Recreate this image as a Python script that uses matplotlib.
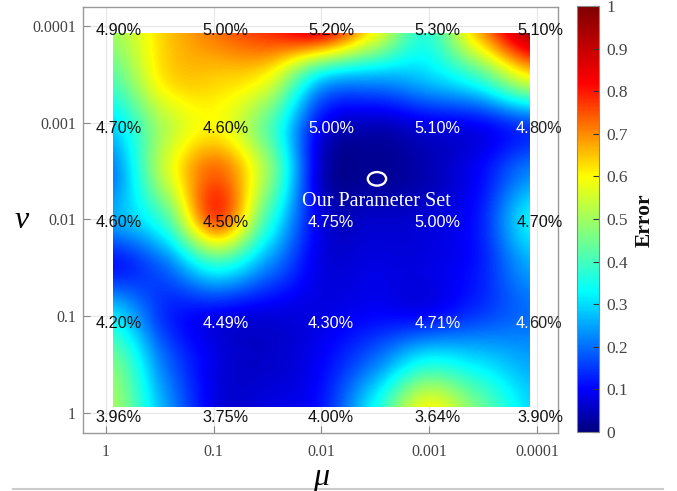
import numpy as np
import matplotlib.pyplot as plt
from matplotlib.colors import LinearSegmentedColormap
from matplotlib.patches import Rectangle, Ellipse
from matplotlib.lines import Line2D

# axis tick labels (mu left->right, nu top->bottom)
mu_labels = ["1", "0.1", "0.01", "0.001", "0.0001"]
nu_labels = ["0.0001", "0.001", "0.01", "0.1", "1"]

# error rates printed on the grid, rows = nu (top->bottom), cols = mu
rate_text = [
    ["4.90%", "5.00%", "5.20%", "5.30%", "5.10%"],
    ["4.70%", "4.60%", "5.00%", "5.10%", "4.80%"],
    ["4.60%", "4.50%", "4.75%", "5.00%", "4.70%"],
    ["4.20%", "4.49%", "4.30%", "4.71%", "4.60%"],
    ["3.96%", "3.75%", "4.00%", "3.64%", "3.90%"],
]

# normalised error surface sampled on a 9x9 grid (top row = nu 0.0001)
error_grid = np.array([
    [0.50, 0.64, 0.72, 0.78, 0.82, 0.60, 0.38, 0.66, 0.92],
    [0.42, 0.62, 0.64, 0.58, 0.30, 0.25, 0.28, 0.38, 0.58],
    [0.30, 0.52, 0.60, 0.42, 0.10, 0.05, 0.08, 0.10, 0.16],
    [0.22, 0.54, 0.73, 0.48, 0.06, 0.02, 0.04, 0.10, 0.22],
    [0.25, 0.40, 0.75, 0.38, 0.08, 0.06, 0.07, 0.12, 0.32],
    [0.12, 0.20, 0.36, 0.22, 0.08, 0.08, 0.08, 0.12, 0.25],
    [0.30, 0.14, 0.10, 0.08, 0.08, 0.10, 0.10, 0.15, 0.20],
    [0.45, 0.20, 0.08, 0.06, 0.10, 0.20, 0.33, 0.30, 0.25],
    [0.50, 0.25, 0.08, 0.08, 0.12, 0.33, 0.58, 0.45, 0.30],
])

# chosen parameter set (mu ~ 0.003, nu ~ 0.004) in grid index units
our_mu = 2.515
our_nu = 1.58

# which labels are printed in white
light_text = [
    [0, 0, 0, 0, 0],
    [0, 0, 1, 1, 1],
    [0, 0, 1, 1, 0],
    [0, 1, 1, 1, 1],
    [0, 0, 0, 0, 0],
]

serif = "Liberation Serif"
sans = "Liberation Sans"
tick_col = "#444444"

err_cmap = LinearSegmentedColormap.from_list("err", [
    (0.0, (0.0, 0.0, 0.5)),
    (0.1, (0.0, 0.0, 1.0)),
    (0.33, (0.0, 1.0, 1.0)),
    (0.6, (1.0, 1.0, 0.0)),
    (0.82, (1.0, 0.0, 0.0)),
    (1.0, (0.5, 0.0, 0.0)),
])

fig = plt.figure(figsize=(6.77, 4.91), dpi=100)
ax = fig.add_axes([0.1226, 0.1181, 0.7016, 0.8676])
cax = fig.add_axes([0.8523, 0.1202, 0.0325, 0.8676])

# nu row k sits at y = 4 - k, so the top row (0.0001) is highest
x0, x1 = 0.065, 3.926
y_top, y_bot = 4 - 0.072, 4 - 3.938
dx = (x1 - x0) / (error_grid.shape[1] - 1)
dy = (y_top - y_bot) / (error_grid.shape[0] - 1)

im = ax.imshow(error_grid, cmap=err_cmap, vmin=0, vmax=1, interpolation="catrom",
               origin="upper", aspect="auto",
               extent=(x0 - dx / 2, x1 + dx / 2, y_bot - dy / 2, y_top + dy / 2), zorder=1)
im.set_clip_path(Rectangle((x0, y_bot), x1 - x0, y_top - y_bot, transform=ax.transData))

ax.set_xlim(-0.213, 4.195)
ax.set_ylim(-0.207, 4.196)
ax.set_xticks(range(5))
ax.set_xticklabels(mu_labels)
ax.set_yticks([4 - k for k in range(5)])
ax.set_yticklabels(nu_labels)
ax.tick_params(direction="in", length=5, width=0.8, color="#888888",
               labelcolor=tick_col, labelsize=11.5)
ax.tick_params(axis="x", pad=8)
ax.tick_params(axis="y", pad=5)
for lab in ax.get_xticklabels() + ax.get_yticklabels():
    lab.set_family(serif)
ax.grid(True, color="#e6e6e6", lw=0.8, zorder=0)
ax.set_axisbelow(True)
for sp in ax.spines.values():
    sp.set_color("#999999")
    sp.set_linewidth(1.0)

# percentage labels
col_pos = [0.12, 1.11, 2.09, 3.08, 4.03]
row_pos = [0.05, 1.06, 2.03, 3.08, 4.05]
lab_kw = dict(va="center", fontsize=11.7, family=sans, zorder=4)
for i in range(5):
    for j in range(5):
        t = rate_text[i][j]
        xp, yp = col_pos[j], 4 - row_pos[i]
        if light_text[i][j] and j == 4:
            # label crosses the right edge of the map: white part on the map,
            # dark part on the paper
            ax.text(x1, yp, t[:2], ha="right", color="white", **lab_kw)
            ax.text(x1, yp, t[2:], ha="left", color="#222222", **lab_kw)
        elif light_text[i][j]:
            ax.text(xp, yp, t, ha="center", color="white", **lab_kw)
        else:
            ax.text(xp, yp, t, ha="center", color="#111111", **lab_kw)

ax.add_patch(Ellipse((our_mu, 4 - our_nu), 0.17, 0.14, fill=False, ec="white",
                     lw=1.7, zorder=5))
ax.text(our_mu - 0.01, 4 - our_nu - 0.23, "Our Parameter Set", ha="center", va="center",
        fontsize=14.5, family=serif, color="white", zorder=5)

fig.text(321 / 677, 1 - 477 / 491, "\u03bc", family=serif, style="italic",
         fontsize=23, ha="center", va="center")
fig.text(22 / 677, 1 - 220 / 491, "\u03bd", family=serif, style="italic",
         fontsize=23, ha="center", va="center")

cb = fig.colorbar(im, cax=cax)
cb.set_ticks(np.arange(0, 1.01, 0.1))
cb.set_ticklabels(["0", "0.1", "0.2", "0.3", "0.4", "0.5", "0.6", "0.7", "0.8", "0.9", "1"])
cax.tick_params(direction="in", length=4, width=0.8, color="#333333",
                labelcolor=tick_col, labelsize=12.5, pad=5)
for lab in cax.get_yticklabels():
    lab.set_family(serif)
cb.outline.set_edgecolor("#888888")
cb.outline.set_linewidth(0.8)
fig.text(0.953, 0.552, "Error", rotation=90, ha="center", va="center",
         family=serif, fontweight="bold", fontsize=15.5, color="#111111")

# thin rule along the bottom of the page
fig.add_artist(Line2D([13 / 677, 663 / 677], [2 / 491, 2 / 491], color="#cccccc", lw=1.5))

fig.savefig("out.png", dpi=100)
